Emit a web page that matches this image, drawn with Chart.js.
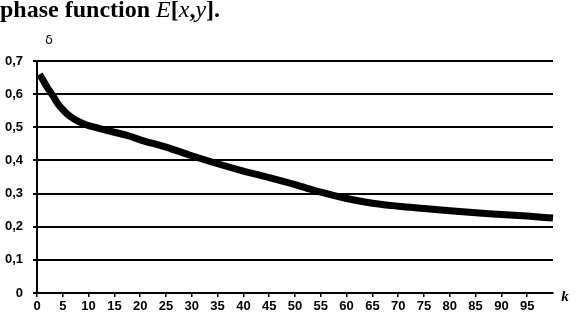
<!DOCTYPE html>
<html lang="en">
  <head>
    <meta charset="UTF-8" />
    <title>delta vs k</title>
    <script src="https://cdn.jsdelivr.net/npm/chart.js"></script>
    <style>
      body { margin: 0; background: #fff; }
      #wrap { position: relative; width: 578px; height: 325px; overflow: hidden; }
      #caption {
        position: absolute; left: 0; top: -4px;
        font: bold 24px "Liberation Serif", "DejaVu Serif", serif;
        color: #000; white-space: nowrap;
      }
      #caption i { font-weight: normal; }
    </style>
  </head>
  <body>
    <div id="wrap">
      <canvas id="chart" width="578" height="325"></canvas>
      <div id="caption">phase function <i>E</i>[<i>x</i>,<i>y</i>].</div>
    </div>
    <script>
      // values
      const kValues = [0.5, 1, 2, 3, 4, 5, 6, 7, 8, 9, 10, 12, 15, 18, 20, 25, 30, 35, 40, 45, 50, 55, 60, 65, 70, 75, 80, 85, 90, 95, 100];
      const deltaValues = [0.66, 0.647, 0.62, 0.597, 0.572, 0.553, 0.538, 0.527, 0.518, 0.511, 0.505, 0.497, 0.485, 0.473, 0.462, 0.44, 0.414, 0.39, 0.368, 0.348, 0.327, 0.304, 0.285, 0.271, 0.262, 0.255, 0.248, 0.242, 0.237, 0.232, 0.226];
      const yAxisLabel = "δ";
      const xAxisLabel = "k";

      const tickFont = { family: "'Liberation Sans Narrow', 'Liberation Sans', sans-serif", size: 13, weight: "bold" };

      const axisLabels = {
        id: "axisLabels",
        afterDraw(chart) {
          const { ctx, chartArea } = chart;
          ctx.save();
          ctx.fillStyle = "#000";
          ctx.textAlign = "center";
          ctx.textBaseline = "middle";
          ctx.font = "13px 'DejaVu Sans', sans-serif";
          ctx.fillText(yAxisLabel, chartArea.left + 12, chartArea.top - 20);
          ctx.font = "italic bold 15px 'Liberation Serif', serif";
          ctx.fillText(xAxisLabel, chartArea.right + 12, chartArea.bottom + 4);
          ctx.restore();
        },
      };

      new Chart(document.getElementById("chart"), {
        type: "line",
        data: {
          datasets: [
            {
              data: kValues.map((k, i) => ({ x: k, y: deltaValues[i] })),
              borderColor: "#000",
              borderWidth: 7,
              pointRadius: 0,
              tension: 0.4,
              cubicInterpolationMode: "monotone",
              clip: false,
            },
          ],
        },
        options: {
          responsive: false,
          animation: false,
          layout: { padding: { top: 61, right: 25, left: 0, bottom: 0 } },
          plugins: { legend: { display: false }, tooltip: { enabled: false } },
          scales: {
            x: {
              type: "linear",
              min: 0,
              max: 100,
              afterFit: (s) => { s.height = 32; },
              border: { color: "#000", width: 2 },
              grid: { drawOnChartArea: false, color: "#000", tickLength: 4, lineWidth: 1.5 },
              ticks: {
                stepSize: 5,
                color: "#000",
                font: tickFont,
                padding: 2,
                maxRotation: 0,
                autoSkip: false,
                callback: (v) => (v >= 100 ? null : String(v)),
              },
            },
            y: {
              min: 0,
              max: 0.7,
              afterFit: (s) => { s.width = 37; },
              border: { color: "#000", width: 2 },
              grid: { color: "#000", lineWidth: 2, tickLength: 4 },
              ticks: {
                stepSize: 0.1,
                color: "#000",
                font: tickFont,
                padding: 10,
                callback: (v) => (v === 0 ? "0" : v.toFixed(1).replace(".", ",")),
              },
            },
          },
        },
        plugins: [axisLabels],
      });
    </script>
  </body>
</html>
